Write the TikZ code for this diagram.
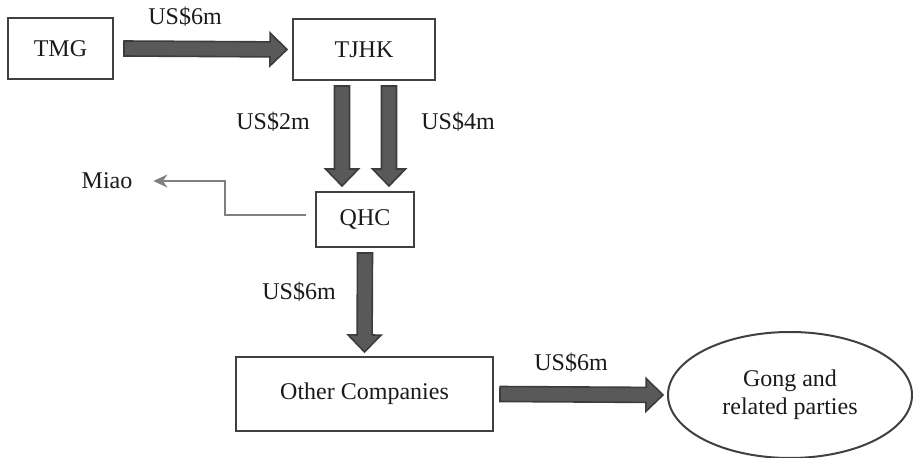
\documentclass[tikz,border=0pt]{standalone}
\usepackage{fontspec}
\setmainfont{Liberation Serif}
\usetikzlibrary{arrows.meta,calc,positioning,shapes.geometric}
\definecolor{ink}{HTML}{1A1A1A}
\definecolor{boxline}{HTML}{404040}
\definecolor{flowfill}{HTML}{595959}
\definecolor{flowedge}{HTML}{3C3C3C}
\definecolor{linkgray}{HTML}{7F7F7F}

\tikzset{
  party/.style={draw=boxline,line width=1pt,text=ink,inner sep=0pt},
  amount/.style={text=ink},
  % fat block arrow from start to target
  flow/.style={draw=flowedge,fill=flowfill,line width=0.8pt,
    to path={let \p1=(\tikztostart), \p2=(\tikztotarget),
      \n1={atan2(\y2-\y1,\x2-\x1)}, \n2={veclen(\x2-\x1,\y2-\y1)} in
      ([shift={(\p1)},rotate=\n1]0pt,3.75pt)
      -- ([shift={(\p1)},rotate=\n1]\n2-8.5pt,3.75pt)
      -- ([shift={(\p1)},rotate=\n1]\n2-8.5pt,8.25pt)
      -- ([shift={(\p1)},rotate=\n1]\n2+0pt,0pt)
      -- ([shift={(\p1)},rotate=\n1]\n2-8.5pt,-8.25pt)
      -- ([shift={(\p1)},rotate=\n1]\n2-8.5pt,-3.75pt)
      -- ([shift={(\p1)},rotate=\n1]0pt,-3.75pt) -- cycle}},
  link/.style={draw=linkgray,line width=0.6pt,-{Stealth[length=7pt,width=6.5pt]}}
}

\begin{document}
\begin{tikzpicture}[x=0.5pt,y=-0.5pt,font=\fontsize{12}{14}\selectfont]
\useasboundingbox (0,0) rectangle (913,458);

\node[party,minimum width=52.5pt,minimum height=30.5pt] (tmg) at (60.5,48.5) {TMG};
\node[party,minimum width=71pt,minimum height=30.5pt] (tjhk) at (364,49.5) {TJHK};
\node[party,minimum width=49pt,minimum height=27.5pt] (qhc) at (365,219.5) {QHC};
\node[party,minimum width=128.5pt,minimum height=37pt] (other) at (364.5,394) {Other Companies};
\node[party,ellipse,minimum width=122pt,minimum height=63pt,align=center] (gong) at (790,395) {Gong and\\related parties};
\node[text=ink] (miao) at (107,181) {Miao};

% money flows
\draw[flow] ([xshift=5pt]tmg.east) to ([xshift=-2.5pt]tjhk.west);
\draw[flow] ([xshift=-11pt,yshift=-2.5pt]tjhk.south) to ([xshift=-11.5pt,yshift=2.5pt]qhc.north);
\draw[flow] ([xshift=12.5pt,yshift=-2.5pt]tjhk.south) to ([xshift=12pt,yshift=2.5pt]qhc.north);
\draw[flow] ([yshift=-2.5pt]qhc.south) to ([yshift=2pt]other.north);
\draw[flow] ([xshift=3pt]other.east) to ([xshift=-2pt]gong.west);

\draw[link] ([xshift=-4.5pt,yshift=2.25pt]qhc.west) -- ++(-81,0) |- ([xshift=7pt]miao.east);

\node[amount] (a1) at (185,17) {US\$6m};
\node[amount] (a2) at (273,122) {US\$2m};
\node[amount] (a3) at (458,122) {US\$4m};
\node[amount] (a4) at (299,292) {US\$6m};
\node[amount] (a5) at (571,363) {US\$6m};
\end{tikzpicture}
\end{document}
